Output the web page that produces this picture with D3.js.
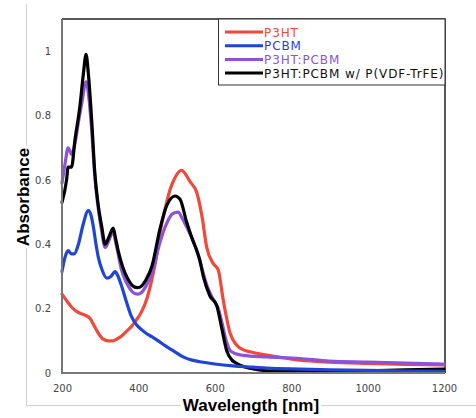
<!DOCTYPE html>
<html>
<head>
<meta charset="utf-8">
<script src="https://cdn.jsdelivr.net/npm/d3@7/dist/d3.min.js"></script>
<style>
    body { margin: 0; background: #fff; }
    svg { display: block; }
</style>
</head>
<body>
<div id="chart"></div>
<script>
// absorbance spectra
const p3htX = [200, 212, 225, 240, 260, 273, 285, 295, 308, 321, 333, 343, 356, 369, 382, 395, 408, 422, 437, 447, 457, 470, 483, 497, 513, 525, 535, 553, 566, 579, 596, 609, 622, 640, 657, 675, 692, 736, 823, 900, 1000, 1100, 1200];
const p3htY = [0.245, 0.225, 0.205, 0.19, 0.18, 0.17, 0.145, 0.124, 0.105, 0.10, 0.10, 0.105, 0.115, 0.13, 0.145, 0.165, 0.19, 0.23, 0.30, 0.36, 0.44, 0.51, 0.57, 0.61, 0.63, 0.615, 0.595, 0.56, 0.49, 0.39, 0.34, 0.32, 0.227, 0.124, 0.087, 0.072, 0.066, 0.056, 0.04, 0.034, 0.03, 0.027, 0.025];

const pcbmX = [200, 208, 216, 225, 232, 243, 255, 269, 276, 282, 289, 295, 305, 317, 328, 339, 347, 356, 369, 382, 395, 409, 422, 435, 452, 470, 490, 517, 540, 561, 600, 648, 700, 736, 823, 900, 1000, 1100, 1200];
const pcbmY = [0.315, 0.36, 0.38, 0.37, 0.37, 0.40, 0.46, 0.505, 0.49, 0.455, 0.40, 0.36, 0.32, 0.295, 0.30, 0.315, 0.30, 0.27, 0.22, 0.175, 0.15, 0.134, 0.122, 0.113, 0.10, 0.085, 0.07, 0.05, 0.04, 0.035, 0.028, 0.022, 0.018, 0.015, 0.012, 0.01, 0.008, 0.006, 0.005];

const blendX = [200, 208, 216, 225, 235, 243, 252, 263, 270, 278, 286, 295, 304, 313, 322, 334, 340, 347, 356, 365, 376, 386, 398, 408, 420, 438, 455, 474, 490, 504, 515, 526, 540, 553, 565, 580, 595, 609, 620, 630, 640, 655, 674, 736, 823, 900, 1000, 1100, 1200];
const blendY = [0.59, 0.65, 0.70, 0.68, 0.72, 0.78, 0.84, 0.905, 0.86, 0.75, 0.61, 0.51, 0.44, 0.39, 0.41, 0.44, 0.41, 0.37, 0.32, 0.29, 0.265, 0.25, 0.245, 0.25, 0.27, 0.32, 0.40, 0.465, 0.495, 0.50, 0.48, 0.455, 0.42, 0.38, 0.33, 0.27, 0.23, 0.20, 0.15, 0.10, 0.07, 0.06, 0.055, 0.05, 0.045, 0.037, 0.034, 0.031, 0.028];

const pvdfX = [200, 212, 216, 225, 234, 247, 256, 263, 269, 278, 286, 295, 304, 313, 322, 334, 340, 347, 356, 365, 376, 386, 398, 408, 420, 435, 457, 474, 496, 509, 526, 543, 553, 561, 570, 587, 605, 618, 631, 645, 657, 675, 692, 736, 800, 900, 1000, 1100, 1200];
const pvdfY = [0.53, 0.60, 0.64, 0.64, 0.725, 0.83, 0.93, 0.99, 0.93, 0.78, 0.62, 0.52, 0.455, 0.40, 0.42, 0.45, 0.42, 0.38, 0.34, 0.31, 0.285, 0.27, 0.265, 0.27, 0.29, 0.33, 0.45, 0.52, 0.55, 0.54, 0.47, 0.41, 0.38, 0.35, 0.30, 0.24, 0.21, 0.14, 0.07, 0.04, 0.03, 0.02, 0.015, 0.007, 0.005, 0.005, 0.007, 0.01, 0.012];

const seriesNames = ['P3HT', 'PCBM', 'P3HT:PCBM', 'P3HT:PCBM w/ P(VDF-TrFE)'];
const seriesColors = ['#f2483a', '#1f45d8', '#8c52dc', '#000000'];
const seriesX = [p3htX, pcbmX, blendX, pvdfX];
const seriesY = [p3htY, pcbmY, blendY, pvdfY];

const xTicks = [200, 400, 600, 800, 1000, 1200];
const yTicks = [0, 0.2, 0.4, 0.6, 0.8, 1];

const width = 476, height = 418;
const plot = { left: 62, right: 445, top: 19, bottom: 373 };

const svg = d3.select('#chart')
    .append('svg')
    .attr('width', width)
    .attr('height', height);

const x = d3.scaleLinear().domain([200, 1200]).range([plot.left, plot.right - 1]);
const y = d3.scaleLinear().domain([0, 1.1]).range([plot.bottom, plot.top]);

// outer chart-area border (left and bottom only)
svg.append('path')
    .attr('d', `M26.5,4 V405.5 H476`)
    .attr('fill', 'none')
    .attr('stroke', '#cfcfcf')
    .attr('stroke-width', 1);

// frame: top and right dark, left and bottom grey
svg.append('path')
    .attr('d', `M${plot.left},${plot.top} H${plot.right} V${plot.bottom}`)
    .attr('fill', 'none')
    .attr('stroke', '#222')
    .attr('stroke-width', 1.5);

// curves
const line = d3.line()
    .x(d => x(d[0]))
    .y(d => y(d[1]))
    .curve(d3.curveMonotoneX);

const drawOrder = [0, 2, 3, 1];
drawOrder.forEach(i => {
    const pts = seriesX[i].map((v, k) => [v, seriesY[i][k]]);
    svg.append('path')
        .datum(pts)
        .attr('d', line)
        .attr('fill', 'none')
        .attr('stroke', seriesColors[i])
        .attr('stroke-width', 3.2)
        .attr('stroke-linejoin', 'round')
        .attr('stroke-linecap', 'round');
});

// axes
const xAxis = svg.append('g')
    .attr('transform', `translate(0,${plot.bottom})`)
    .call(d3.axisBottom(x).tickValues(xTicks).tickSize(0).tickPadding(12).tickFormat(d3.format('d')));
const yAxis = svg.append('g')
    .attr('transform', `translate(${plot.left},0)`)
    .call(d3.axisLeft(y).tickValues(yTicks).tickSize(0).tickPadding(11).tickFormat(d => d === 0 || d === 1 ? d : d3.format('.1f')(d)));

[xAxis, yAxis].forEach(a => {
    a.select('.domain').remove();
    a.selectAll('text')
        .attr('font-family', 'DejaVu Sans, sans-serif')
        .attr('font-size', 10)
        .attr('fill', '#444');
});

svg.append('path')
    .attr('d', `M${plot.left},${plot.top} V${plot.bottom} H${plot.right}`)
    .attr('fill', 'none')
    .attr('stroke', '#777')
    .attr('stroke-width', 2);

// axis titles (white backing covers the outer border line)
const xTitle = svg.append('text')
    .attr('x', 251)
    .attr('y', 411)
    .attr('text-anchor', 'middle')
    .attr('font-family', 'Liberation Sans, Arial, sans-serif')
    .attr('font-weight', 'bold')
    .attr('font-size', 17)
    .text('Wavelength [nm]');
const xb = xTitle.node().getBBox();
svg.insert('rect', () => xTitle.node())
    .attr('x', xb.x - 2).attr('y', xb.y).attr('width', xb.width + 4).attr('height', xb.height)
    .attr('fill', '#fff');

const yTitle = svg.append('text')
    .attr('transform', 'translate(29,197) rotate(-90)')
    .attr('text-anchor', 'middle')
    .attr('font-family', 'Liberation Sans, Arial, sans-serif')
    .attr('font-weight', 'bold')
    .attr('font-size', 17)
    .text('Absorbance');
const yb = yTitle.node().getBBox();
svg.insert('rect', () => yTitle.node())
    .attr('transform', 'translate(29,197) rotate(-90)')
    .attr('x', yb.x - 2).attr('y', yb.y).attr('width', yb.width + 4).attr('height', yb.height)
    .attr('fill', '#fff');

// legend
const legend = svg.append('g');
legend.append('rect')
    .attr('x', 218.5)
    .attr('y', plot.top)
    .attr('width', plot.right - 218.5)
    .attr('height', 66)
    .attr('fill', '#fff')
    .attr('stroke', '#333')
    .attr('stroke-width', 1);

seriesNames.forEach((name, i) => {
    const ly = 32 + i * 13.7;
    legend.append('line')
        .attr('x1', 225).attr('x2', 263)
        .attr('y1', ly).attr('y2', ly)
        .attr('stroke', seriesColors[i])
        .attr('stroke-width', 3);
    legend.append('text')
        .attr('x', 264)
        .attr('y', ly + 4.5)
        .attr('font-family', 'DejaVu Sans, sans-serif')
        .attr('font-size', 12)
        .attr('letter-spacing', 0.9)
        .attr('fill', i === 3 ? '#111' : seriesColors[i])
        .text(name);
});
</script>
</body>
</html>
